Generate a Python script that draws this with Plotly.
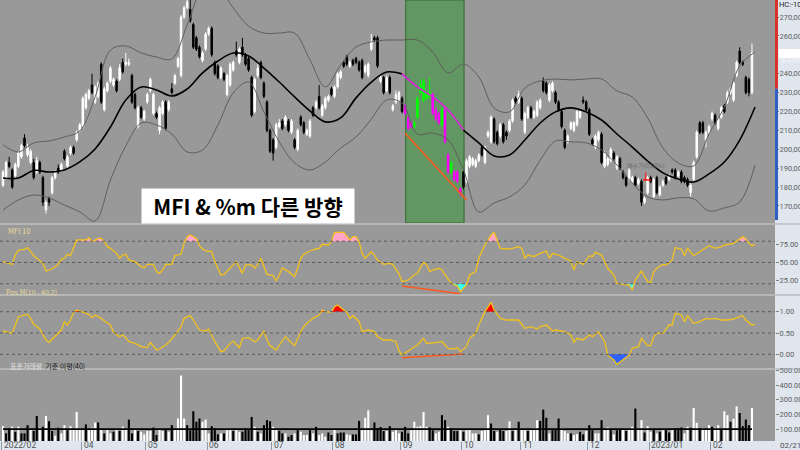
import numpy as np
import plotly.graph_objects as go

# ---------------- DATA (prices in thousand KRW) ----------------
open_k = [181,185,193,189,186,191,196,206,197,193,
          193,188,193,185,168,174,177,185,190,189,
          199,191,198,201,205,210,212,222,227,234,
          225,228,245,221,231,236,234,236,237,246,
          245,245,239,229,212,222,216,225,231,219,
          219,210,219,225,221,232,235,244,239,270,
          275,274,266,259,254,247,253,261,264,246,
          244,238,240,229,234,242,252,246,254,250,
          248,238,220,239,246,235,225,210,205,201,
          212,215,213,215,209,205,200,217,214,208,
          207,222,222,228,218,222,226,232,228,233,
          238,246,249,244,247,248,246,247,241,239,
          253,259,259,236,238,231,238,221,225,226,
          227,223,217,214,212,217,230,226,227,228,
          229,221,219,213,221,197,188,188,188,179,
          188,183,191,192,191,194,201,193,207,204,
          216,209,207,213,209,210,215,227,225,227,
          209,217,222,217,218,222,236,235,226,231,
          230,225,220,210,204,211,210,213,217,226,
          225,221,205,201,205,208,191,192,194,198,
          190,195,188,185,184,183,185,182,183,172,
          177,185,175,185,176,181,185,184,189,189,
          186,188,185,184,177,184,196,214,214,205,
          209,216,218,211,217,223,225,230,226,239,
          252,246,238,237,230]
high_k = [189,194,196,190,193,199,203,208,203,200,
          195,196,194,186,173,175,186,189,192,193,
          200,197,202,202,210,214,228,230,232,240,
          234,236,246,233,236,244,238,237,245,248,
          251,248,240,230,223,223,221,230,238,230,
          220,223,226,226,226,235,240,249,271,276,
          279,279,267,260,255,252,262,265,265,247,
          245,244,241,240,246,247,257,254,259,251,
          249,239,238,245,247,236,226,211,206,214,
          216,216,218,216,216,206,211,218,215,211,
          216,223,226,234,224,228,229,233,234,241,
          242,247,250,247,248,249,247,248,245,246,
          261,260,260,239,239,239,239,224,231,231,
          228,224,218,215,215,228,237,237,231,238,
          230,222,220,222,222,198,194,189,189,180,
          189,195,197,196,195,198,202,202,210,218,
          217,210,214,214,210,216,227,228,231,228,
          220,223,223,221,226,227,238,236,235,236,
          231,226,221,211,208,215,215,221,221,228,
          226,222,206,208,210,209,199,196,201,199,
          197,196,189,186,190,186,186,185,184,175,
          186,186,185,186,181,184,186,187,190,190,
          189,189,186,185,182,194,210,215,215,210,
          213,220,219,217,223,224,231,233,236,247,
          254,247,239,238,256]
low_k = [180,184,190,179,185,190,195,201,196,192,
         184,187,187,170,166,170,176,184,187,188,
         194,190,197,197,204,209,211,221,226,229,
         224,227,224,220,230,235,233,230,236,240,
         244,244,224,221,211,216,215,224,230,218,
         216,208,218,210,220,229,234,243,238,269,
         274,267,253,252,248,246,252,260,249,239,
         237,237,236,228,233,241,249,245,249,244,
         241,217,219,238,237,227,209,198,194,200,
         211,210,212,209,208,200,199,212,208,207,
         206,217,221,221,217,221,225,228,227,232,
         237,243,244,243,244,245,241,237,240,238,
         252,257,243,235,229,230,229,220,224,225,
         219,218,210,211,211,216,229,225,226,227,
         218,215,213,212,203,187,187,183,182,175,
         179,182,190,191,190,193,196,192,206,203,
         203,202,206,203,205,209,214,224,224,215,
         208,216,216,216,217,221,230,229,225,230,
         224,220,211,200,203,210,209,212,216,224,
         220,207,202,200,204,192,190,191,193,194,
         189,189,184,180,183,182,180,181,170,171,
         176,182,174,176,175,180,181,183,187,184,
         185,182,182,180,175,183,195,208,208,201,
         208,215,213,210,216,219,224,229,225,238,
         245,244,229,228,229]
close_k = [188,193,191,180,192,198,202,202,201,199,
           185,194,188,172,172,172,185,188,188,192,
           195,196,201,198,209,213,227,229,231,230,
           233,235,225,232,235,243,237,231,243,241,
           246,246,225,222,222,217,220,229,237,229,
           217,222,225,211,225,230,239,248,270,275,
           278,268,254,253,249,251,261,264,250,240,
           238,243,237,239,245,246,250,253,250,245,
           242,218,237,243,238,228,210,199,198,213,
           214,211,217,210,215,201,210,213,209,210,
           215,218,225,222,223,227,228,229,233,240,
           241,244,245,246,245,246,242,238,244,245,
           257,258,244,238,230,238,230,223,229,230,
           220,219,211,212,214,227,234,236,230,230,
           219,216,214,221,204,188,193,184,183,177,
           180,194,196,195,194,197,197,201,209,217,
           204,203,213,204,207,215,226,225,229,216,
           219,222,217,220,225,226,231,230,234,235,
           225,221,212,201,207,214,214,220,220,225,
           221,208,203,207,209,193,198,195,200,195,
           196,190,185,181,189,185,181,184,172,174,
           185,183,184,177,180,183,182,186,188,185,
           188,183,183,181,181,193,209,209,209,209,
           212,219,214,216,222,220,230,232,235,246,
           246,245,230,230,251]

# standardized volume (표준거래량) and its up/down colouring
vol_std = [120,71,105,116,82,116,71,71,
           127,93,87,190,109,116,190,154,87,55,
           109,71,127,93,120,100,217,105,93,132,
           93,109,145,145,100,71,100,71,82,105,
           87,116,100,165,71,100,87,82,64,87,
           87,111,60,100,87,100,82,127,93,172,
           465,172,127,93,222,150,172,150,165,71,
           120,105,64,71,71,93,100,87,100,82,
           82,105,93,183,116,82,71,127,161,154,
           116,100,89,71,71,48,60,71,93,82,
           60,60,93,71,116,60,71,48,77,60,
           100,71,77,77,64,60,64,64,156,93,
           177,228,93,145,105,114,87,87,120,82,93,
           71,
           82,116,71,93,150,116,120,217,
           116,111,93,71,82,195,161,116,105,87,
           87,93,82,93,98,71,71,64,87,93,
           195,138,87,82,100,87,87,154,87,98,
           150,98,93,87,98,105,161,156,233,177,71,
           93,100,172,105,87,71,71,60,
           66,82,64,87,127,93,71,71,161,100,
           111,93,64,93,98,100,87,98,116,240,
           105,161,77,120,82,100,71,82,93,93,
           77,93,105,105,111,71,116,109,244,143,
           105,105,98,127,116,109,127,100,222,195,
           150,172,255,210,120,165,127,244]
vol_up = [1,0,0,1,0,1,0,0,
          0,1,0,0,1,0,1,0,0,1,
          0,1,1,0,1,1,1,1,1,0,
          1,1,1,0,1,0,1,1,0,1,
          0,1,1,0,0,1,0,1,1,1,
          1,0,0,1,1,0,1,0,1,1,
          1,1,0,0,0,0,0,1,1,1,
          0,0,0,1,0,1,1,0,1,1,
          0,0,0,0,1,0,1,0,0,0,
          1,1,0,0,1,0,0,1,0,1,
          1,1,0,1,0,1,1,1,0,0,
          1,0,0,0,1,1,0,0,0,1,
          1,1,1,0,0,0,0,1,0,1,1,
          1,
          0,0,0,1,1,1,1,1,
          1,0,0,1,1,0,0,1,0,0,
          0,1,0,1,1,1,1,0,1,1,
          1,0,0,1,0,0,1,1,0,1,
          0,1,1,0,1,1,1,0,0,0,1,
          0,0,0,1,1,1,0,1,
          1,0,0,1,0,0,1,1,0,1,
          1,0,1,0,0,1,0,1,1,0,
          1,1,0,1,1,0,1,0,1,0,
          0,1,0,0,0,1,1,0,1,1,
          0,1,1,1,0,1,1,0,1,1,
          0,1,1,0,0,0,0,1]
vol_baseline = 100

# Bollinger band (20) read every 5 sessions
bb_idx = list(range(0, 246, 5))
bb_mid = [184.8,184.8,188.8,188.0,189.1,193.3,200.2,211.8,226.1,233.0,
          231.4,228.2,231.9,240.4,246.7,251.0,249.4,243.0,235.6,227.7,
          220.3,214.5,216.6,227.2,235.6,240.9,239.9,233.0,227.7,220.8,
          210.2,203.4,196.5,197.0,204.9,213.9,219.8,221.9,219.8,215.5,
          208.1,201.2,193.8,187.5,184.3,182.7,187.0,193.3,204.9,222.4]
bb_up = [202.3,198.6,203.4,204.4,206.5,209.7,227.7,252.5,254.7,251.0,
         248.8,247.8,265.8,284.3,285.3,274.8,265.2,261.5,261.5,261.5,
         247.3,233.0,244.6,254.1,256.8,257.8,257.8,257.8,251.5,240.4,
         245.1,238.3,221.9,219.8,232.4,236.2,237.2,236.7,237.2,237.2,
         230.9,227.7,216.6,200.7,192.8,191.2,208.1,222.4,244.1,251.5]
bb_lo = [167.9,173.2,175.8,174.3,170.5,166.9,162.1,183.8,201.8,213.9,
         212.9,208.1,198.6,199.6,212.9,229.8,235.6,219.8,203.9,192.8,
         189.1,193.3,200.7,206.5,216.0,226.1,224.5,208.1,208.6,204.9,
         189.1,166.9,171.6,174.8,181.1,194.3,204.4,203.9,203.4,199.6,
         191.7,182.2,174.8,173.2,174.3,173.8,167.4,169.0,172.1,191.7]

# MFI(10)
mfi_idx = [0,1,3,4,5,7,8,9,10,11,13,14,16,18,19,20,21,22,23,24,25,27,28,29,31,32,33,34,35,37,
           38,39,40,41,43,45,46,47,49,50,51,52,53,55,56,58,59,60,61,63,64,65,66,68,69,71,72,73,75,76,
           77,78,79,81,82,83,84,85,86,88,89,90,91,93,95,96,97,98,100,102,103,104,106,107,108,111,113,114,115,116,
           117,118,120,121,122,124,126,127,129,130,132,134,135,136,137,138,139,140,142,143,144,146,147,148,149,151,152,154,155,157,
           159,160,161,162,164,166,168,169,170,171,173,175,177,178,179,181,183,185,186,187,189,191,192,193,195,197,199,200,202,204,
           205,206,208,210,211,212,213,215,216,218,219,221,222,223,225,227,229,230,232,234,235,237,238,240,241,242,243,244,245]
mfi_val = [51.2,50.2,47.4,60.5,67.6,68.5,70.9,65.2,59.6,55.9,48.8,38.0,40.8,47.4,54.4,55.9,61.5,59.6,70.9,81.7,81.7,81.7,85.0,79.3,84.0,84.0,79.3,72.3,69.9,62.9,
           55.9,60.5,62.0,53.5,51.2,44.1,42.7,47.4,47.4,37.1,34.7,39.4,47.4,47.4,59.6,61.5,77.0,86.4,88.7,84.0,73.7,69.0,66.2,65.2,51.2,32.4,33.3,38.0,46.5,51.2,
           42.7,34.7,46.5,46.5,41.8,47.4,55.9,44.1,33.3,31.4,23.9,32.4,42.7,37.1,30.0,41.8,55.9,61.5,66.2,69.0,69.9,75.6,74.6,79.3,92.5,92.5,81.7,86.4,86.4,79.3,
           62.9,55.9,65.2,60.5,53.5,47.4,48.8,47.4,34.0,23.0,25.3,32.4,34.7,42.7,50.2,47.4,37.1,39.4,41.8,39.4,32.4,20.6,18.3,17.4,8.9,18.3,32.4,37.1,55.9,74.6,
           88.7,92.5,81.7,69.9,69.0,69.9,72.3,69.9,55.9,60.5,58.2,62.9,66.2,55.9,62.9,60.5,55.9,52.1,39.4,51.2,47.4,59.6,58.2,64.3,60.5,41.8,32.4,20.6,19.2,18.3,
           11.2,25.3,38.0,23.0,22.0,37.1,41.8,47.4,46.5,53.5,70.9,69.0,59.6,69.9,59.6,65.2,69.9,73.7,69.9,72.3,74.6,75.6,77.0,83.1,86.4,83.1,77.0,73.7,75.6]

# Pos.M(10 - 40,2)
posm_idx = [0,1,3,4,5,7,8,9,10,12,14,15,16,18,19,20,21,22,23,24,26,27,28,29,30,32,33,35,36,38,
            39,40,41,43,45,47,48,50,51,53,54,56,58,59,61,62,64,66,67,69,71,72,74,75,77,78,80,82,83,85,
            86,87,89,90,92,93,95,97,98,99,101,103,104,105,107,108,109,111,112,113,114,116,117,119,121,122,124,126,128,129,
            130,132,134,135,137,138,139,141,143,145,147,148,149,151,152,154,155,157,159,160,162,164,166,168,170,172,174,175,177,179,
            180,183,185,186,187,189,191,192,194,196,197,199,200,202,204,205,207,208,210,211,212,213,215,217,218,219,221,222,223,225,
            227,229,231,232,234,236,238,240,241,242,244,245]
posm_val = [0.547,0.531,0.492,0.688,0.883,0.922,0.938,0.844,0.703,0.594,0.336,0.281,0.359,0.515,0.570,0.766,0.688,0.805,0.985,1.040,0.985,0.961,0.938,0.860,0.922,0.844,0.781,0.688,0.515,0.414,
            0.453,0.390,0.296,0.257,0.179,0.156,0.281,0.101,0.124,0.218,0.281,0.453,0.648,0.844,0.907,0.805,0.570,0.547,0.594,0.296,0.062,0.077,0.257,0.312,0.156,0.375,0.390,0.296,0.336,0.547,
            0.336,0.203,0.101,0.218,0.414,0.336,0.203,0.531,0.648,0.727,0.844,0.922,1.040,1.001,0.985,1.118,1.157,1.040,0.985,0.844,0.907,0.766,0.531,0.570,0.531,0.414,0.336,0.336,0.296,0.080,
            -0.017,0.077,0.179,0.218,0.375,0.257,0.257,0.281,0.296,0.140,0.124,0.156,0.062,0.179,0.375,0.492,0.688,1.001,1.220,1.040,0.844,0.805,0.805,0.805,0.609,0.648,0.594,0.648,0.688,0.547,
            0.570,0.531,0.453,0.281,0.375,0.336,0.453,0.414,0.531,0.296,-0.017,-0.134,-0.236,-0.134,-0.017,0.140,0.179,0.375,0.203,0.203,0.414,0.492,0.492,0.688,0.688,0.961,0.922,0.766,0.907,0.727,
            0.766,0.844,0.828,0.844,0.805,0.805,0.828,0.883,0.907,0.805,0.688,0.703]

# month ticks
month_idx = [0, 26, 47, 67, 88, 108, 130, 150, 169, 191, 211, 231]
month_lbl = ["2022/02", "04", "05", "06", "07", "08", "09", "10", "11", "12", "2023/01", "02"]
last_lbl = "02/21"
price_ticks_k = [170, 180, 190, 200, 210, 220, 230, 240, 260, 270]   # 250 sits under the price box

# highlighted period and divergence lines
zone_from, zone_to = 131, 149
price_trend_x, price_trend_y = [131, 151], [208.5, 173.2]
mfi_trend_x, mfi_trend_y = [130, 149], [16.9, 6.0]
posm_trend_x, posm_trend_y = [130, 150], [-0.08, 0.007]
marker_idx, marker_price = 209.4, 183.8

# ---------------- FIGURE ----------------
n = len(close_k)
idx = list(range(n))
K = 1000.0
o = np.array(open_k) * K; h = np.array(high_k) * K
l = np.array(low_k) * K; c = np.array(close_k) * K

BG = '#999999'
STRIP = '#dfe6ee'
YEL = '#f2c21b'
fig = go.Figure()

in_zone = [(zone_from <= i <= zone_to) for i in idx]
main = [i for i in idx if not in_zone[i]]
zone = [i for i in idx if in_zone[i]]

fig.add_trace(go.Candlestick(
    x=main, open=o[main], high=h[main], low=l[main], close=c[main],
    increasing=dict(line=dict(color='white', width=1), fillcolor='white'),
    decreasing=dict(line=dict(color='black', width=1), fillcolor='black'),
    whiskerwidth=0, yaxis='y', hoverinfo='skip'))
fig.add_trace(go.Candlestick(
    x=zone, open=o[zone], high=h[zone], low=l[zone], close=c[zone],
    increasing=dict(line=dict(color='#00ff00', width=1), fillcolor='#00ff00'),
    decreasing=dict(line=dict(color='#ff00ff', width=1), fillcolor='#ff00ff'),
    whiskerwidth=0, yaxis='y', hoverinfo='skip'))

bbx = np.array(bb_idx)
for arr in (bb_up, bb_lo):
    fig.add_trace(go.Scatter(x=bb_idx, y=np.array(arr) * K, mode='lines',
                             line=dict(color='#5e5e5e', width=1, shape='spline'), yaxis='y'))
mid = np.array(bb_mid) * K
seg1 = bbx <= 130
seg2 = (bbx >= 130) & (bbx <= 150)
seg3 = bbx >= 150
fig.add_trace(go.Scatter(x=bbx[seg1], y=mid[seg1], mode='lines', line=dict(color='black', width=1.6, shape='spline'), yaxis='y'))
fig.add_trace(go.Scatter(x=bbx[seg2], y=mid[seg2], mode='lines', line=dict(color='#e020e0', width=1.6, shape='spline'), yaxis='y'))
fig.add_trace(go.Scatter(x=bbx[seg3], y=mid[seg3], mode='lines', line=dict(color='black', width=1.6, shape='spline'), yaxis='y'))

fig.add_trace(go.Scatter(x=price_trend_x, y=np.array(price_trend_y) * K, mode='lines',
                         line=dict(color='#ff5a1e', width=1.6), yaxis='y'))


def band_polys(xs, ys, level, above):
    """Closed polygons of the parts of a line beyond a level (separated by None)."""
    def beyond(v):
        return v > level if above else v < level
    px, pyy = [], []
    cur = None

    def flush(pts):
        px.extend([p[0] for p in pts] + [None])
        pyy.extend([p[1] for p in pts] + [None])

    for i, (x, y) in enumerate(zip(xs, ys)):
        if i > 0:
            x0, y0 = xs[i - 1], ys[i - 1]
            if (y0 - level) * (y - level) < 0:
                xc = x0 + (level - y0) / (y - y0) * (x - x0)
                if cur is None:
                    cur = [(xc, level)]
                else:
                    cur.append((xc, level)); flush(cur); cur = None
        if beyond(y):
            if cur is None:
                cur = [(x, level)]
            cur.append((x, y))
        elif cur is not None:
            cur.append((x, level)); flush(cur); cur = None
    if cur is not None:
        cur.append((cur[-1][0], level)); flush(cur)
    return px, pyy


def add_band(xs, ys, level, above, color, yax):
    bx, by = band_polys(xs, ys, level, above)
    fig.add_trace(go.Scatter(x=bx, y=by, mode='lines', line=dict(width=0), fill='toself',
                             fillcolor=color, yaxis=yax, hoverinfo='skip'))


add_band(mfi_idx, mfi_val, 80, True, '#ffa3c8', 'y2')
add_band(mfi_idx, mfi_val, 20, False, '#33ffff', 'y2')
fig.add_trace(go.Scatter(x=mfi_idx, y=mfi_val, mode='lines', line=dict(color=YEL, width=1.3), yaxis='y2'))
fig.add_trace(go.Scatter(x=mfi_trend_x, y=mfi_trend_y, mode='lines', line=dict(color='#ff5a1e', width=1.6), yaxis='y2'))

add_band(posm_idx, posm_val, 1.0, True, '#ff0000', 'y3')
add_band(posm_idx, posm_val, 0.0, False, '#2f62ff', 'y3')
fig.add_trace(go.Scatter(x=posm_idx, y=posm_val, mode='lines', line=dict(color=YEL, width=1.3), yaxis='y3'))
fig.add_trace(go.Scatter(x=posm_trend_x, y=posm_trend_y, mode='lines', line=dict(color='#ff5a1e', width=1.6), yaxis='y3'))

fig.add_trace(go.Bar(x=idx, y=vol_std, width=0.68,
                     marker=dict(color=['white' if u else 'black' for u in vol_up], line=dict(width=0)),
                     yaxis='y4', hoverinfo='skip'))
fig.add_trace(go.Scatter(x=[0, n - 1], y=[vol_baseline, vol_baseline], mode='lines',
                         line=dict(color='black', width=1.6), yaxis='y4'))

# ---------------- LAYOUT ----------------
PH = 441.0  # plot-area height in px (450 - bottom margin)


def py(px):
    return (PH - px) / PH


tickfont = dict(family='Roboto, DejaVu Sans', size=7.5, color='#606060')
yax_common = dict(side='right', anchor='x', showgrid=False, zeroline=False, ticks='outside',
                  ticklen=3, tickcolor='#808080', tickfont=tickfont, showline=False, fixedrange=True,
                  automargin=False, ticklabelstandoff=-1)

fig.update_layout(
    width=800, height=450, margin=dict(l=0, r=25, t=0, b=9, autoexpand=False),
    paper_bgcolor=STRIP, plot_bgcolor=BG, showlegend=False,
    xaxis=dict(domain=[0, 1], range=[-0.98, 251.5], anchor='y4', showgrid=False, zeroline=False,
               rangeslider=dict(visible=False), tickvals=[m - 0.5 for m in month_idx], automargin=False,
               ticks='outside', ticklen=9, tickcolor='#8d9aa8', showticklabels=False, showline=False),
    yaxis=dict(domain=[py(223), 1], range=[161000, 279000],
               tickvals=[t * K for t in price_ticks_k], tickformat=',', **yax_common),
    yaxis2=dict(domain=[py(294), py(225)], range=[5.6, 102.8], tickvals=[25, 50, 75], tickformat='.2f', **yax_common),
    yaxis3=dict(domain=[py(368), py(296)], range=[-0.322, 1.369], tickvals=[0, 0.5, 1.0], tickformat='.2f', **yax_common),
    yaxis4=dict(domain=[0, py(370)], range=[18.9, 503], tickvals=[100, 200, 300, 400, 500], tickformat='.2f', **yax_common),
)

shapes = []
# highlighted zone
shapes.append(dict(type='rect', xref='x', yref='y domain', x0=zone_from + 0.2, x1=zone_to + 1.2, y0=0, y1=1,
                   fillcolor='#629662', line=dict(color='#2c6e2c', width=1), layer='below'))
# dotted reference levels
for lv in (80, 50, 20):
    shapes.append(dict(type='line', xref='paper', yref='y2', x0=0, x1=1, y0=lv, y1=lv,
                       line=dict(color='#5a5a5a', width=1, dash='dot')))
for lv in (1.0, 0.5, 0.0):
    shapes.append(dict(type='line', xref='paper', yref='y3', x0=0, x1=1, y0=lv, y1=lv,
                       line=dict(color='#5a5a5a', width=1, dash='dot')))
# panel separators
for sp in (224, 295, 369):
    shapes.append(dict(type='line', xref='paper', yref='paper', x0=0, x1=1, y0=py(sp), y1=py(sp),
                       line=dict(color='#b6b6b6', width=2)))
    shapes.append(dict(type='line', xref='paper', yref='paper', x0=1, x1=1.04, y0=py(sp), y1=py(sp),
                       line=dict(color='#9ea8b2', width=1)))
# price strip bar (red above / blue below)
shapes.append(dict(type='rect', xref='paper', yref='y', x0=1.0, x1=1.0039, y0=232000, y1=279000,
                   fillcolor='#d9342b', line=dict(width=0)))
shapes.append(dict(type='rect', xref='paper', yref='y', x0=1.0, x1=1.0039, y0=162600, y1=232000,
                   fillcolor='#2f5fc4', line=dict(width=0)))
# current price box
shapes.append(dict(type='rect', xref='paper', yref='y', x0=1.0045, x1=1.05, y0=248300, y1=253100,
                   fillcolor='white', line=dict(width=0)))
# red marker
shapes.append(dict(type='line', xref='x', yref='y', x0=marker_idx - 0.9, x1=marker_idx + 1.7,
                   y0=marker_price * K, y1=marker_price * K, line=dict(color='#ff1010', width=1.5)))
shapes.append(dict(type='line', xref='x', yref='y', x0=marker_idx, x1=marker_idx,
                   y0=marker_price * K, y1=(marker_price + 4) * K, line=dict(color='#ff1010', width=1)))
fig.update_layout(shapes=shapes)

ann = []
ann.append(dict(text='<b>MFI & %m 다른 방향</b>', xref='paper', yref='paper', x=248 / 775, y=py(206),
                xanchor='center', yanchor='middle', showarrow=False, bgcolor='white', width=210, height=32,
                font=dict(family='Noto Sans CJK KR', size=21, color='black')))
ann.append(dict(text='매수가(0.00%)', xref='x', yref='y', x=marker_idx, y=191200, showarrow=False,
                font=dict(family='Noto Sans CJK KR', size=6, color='#6c6c6c')))
ann.append(dict(text='MFI 10', xref='paper', yref='paper', x=6 / 775, y=py(230), xanchor='left',
                showarrow=False, font=dict(family='Noto Sans CJK KR', size=7.5, color='#eadb9a')))
ann.append(dict(text='Pos.M(10 - 40,2)', xref='paper', yref='paper', x=4 / 775, y=py(299), xanchor='left',
                showarrow=False, font=dict(family='Noto Sans CJK KR', size=7, color='#eadb9a')))
ann.append(dict(text='<span style="color:#e4e4e4">표준거래량</span>  <span style="color:#1a1a1a">기준 이평(40)</span>',
                xref='paper', yref='paper', x=8 / 775, y=py(373), xanchor='left', showarrow=False,
                font=dict(family='Noto Sans CJK KR', size=7)))
for m, t in zip(month_idx, month_lbl):
    ann.append(dict(text=t, xref='x', yref='paper', x=m - 0.4, y=py(445.5), xanchor='left', yanchor='middle',
                    showarrow=False, font=dict(family='Roboto, DejaVu Sans', size=8.5, color='#505050')))
ann.append(dict(text=last_lbl, xref='paper', yref='paper', x=778 / 775, y=py(445.5), xanchor='left',
                yanchor='middle', showarrow=False, font=dict(family='Roboto, DejaVu Sans', size=8, color='#505050')))
ann.append(dict(text='HC:-10.2', xref='paper', yref='paper', x=777 / 775, y=py(5), xanchor='left',
                yanchor='middle', showarrow=False, font=dict(family='Roboto, DejaVu Sans', size=7.5, color='#222')))
ann.append(dict(text='8.44%', xref='paper', yref='y', x=779 / 775, y=246500, xanchor='left',
                yanchor='middle', showarrow=False, font=dict(family='Roboto, DejaVu Sans', size=7, color='#f6f6f6')))
fig.update_layout(annotations=ann)

fig.write_html("out.html", config={'displayModeBar': False},
               post_script="document.body.style.margin='0';document.body.style.overflow='hidden';")
